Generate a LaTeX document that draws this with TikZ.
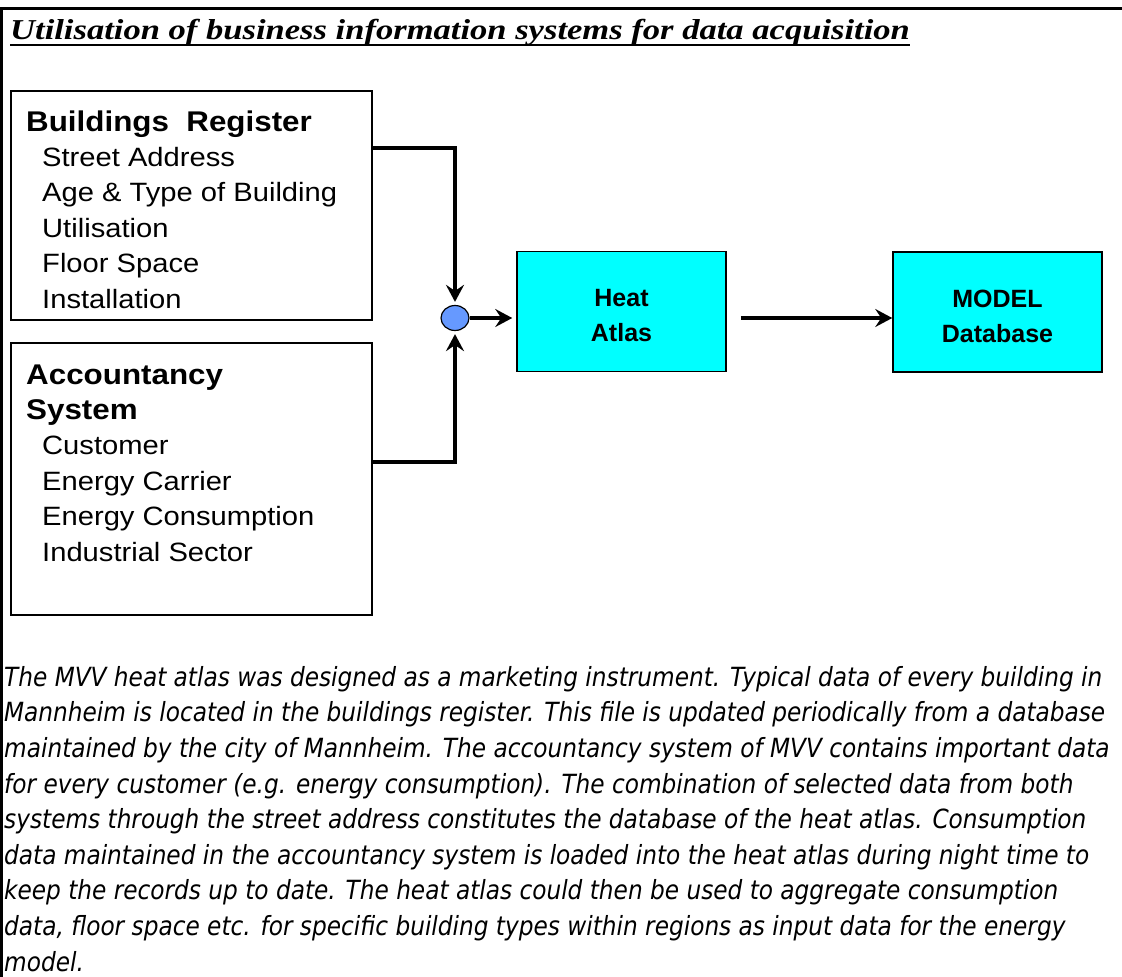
\documentclass[tikz,border=0pt]{standalone}
\usepackage{fontspec}
\setmainfont{Liberation Sans}
\newfontfamily\titlefont[FakeStretch=1.2]{Liberation Serif}
\newfontfamily\listfont[FakeStretch=1.1]{Liberation Sans}
\newfontfamily\notefont[FakeStretch=0.88]{DejaVu Sans}
\usetikzlibrary{arrows.meta,calc,shapes.geometric}
\definecolor{AtlasCyan}{HTML}{00FFFF}
\definecolor{JunctionBlue}{HTML}{6699FF}
\tikzset{
  every node/.style={text=black},
  frame/.style={draw=black, line width=3pt},
  srcbox/.style={draw=black, line width=1.3pt, fill=white, inner sep=0pt},
  dstbox/.style={draw=black, line width=1.5pt, fill=AtlasCyan, minimum width=209pt, minimum height=120pt, inner sep=0pt, font=\fontsize{25}{35}\selectfont\bfseries},
  junction/.style={ellipse, draw=black, line width=1.2pt, fill=JunctionBlue, minimum width=28pt, minimum height=25pt, inner sep=0pt},
  flow/.style={-{Stealth[length=17pt,width=18pt,inset=6pt]}, draw=black, line width=3.2pt},
  listing/.style={anchor=base west, align=left, inner sep=0pt, font=\listfont\fontsize{26.5}{35.4}\selectfont},
}
\newcommand{\entry}[1]{\hspace*{16pt}#1}
\newcommand{\boxlabel}[2]{\raisebox{-12pt}[0pt][0pt]{\begin{tabular}{@{}c@{}}#1\\#2\end{tabular}}}

\begin{document}
\begin{tikzpicture}[x=1pt, y=-1pt]
  \useasboundingbox (0,0) rectangle (1122,977);
  % Frame: top rule and left rule
  \draw[frame] (1.5,977) |- (1122,8);
  % Title
  \node[anchor=base west, inner sep=0pt, font=\titlefont\fontsize{28.8}{33}\selectfont\bfseries\itshape]
    (title) at (10,39) {Utilisation of business information systems for data acquisition};
  \draw[line width=2.5pt] ([yshift=-6pt]title.base west) -- ([yshift=-6pt]title.base east);
  % Source boxes (text node anchored at its last baseline)
  \node[srcbox, minimum width=361pt, minimum height=229pt] (bldg) at (191.5,205.5) {};
  \node[listing] (bldgtext) at (26,308) {%
    {\fontsize{28.5}{35}\selectfont\bfseries Buildings\ \ Register}\\
    \entry{Street Address}\\
    \entry{Age \& Type of Building}\\
    \entry{Utilisation}\\
    \entry{Floor Space}\\
    \entry{Installation}};
  \node[srcbox, minimum width=361pt, minimum height=272pt] (acct) at (191.5,479) {};
  \node[listing] (accttext) at (26,561) {%
    {\fontsize{28.5}{35}\selectfont\bfseries Accountancy}\\
    {\fontsize{28.5}{35}\selectfont\bfseries System}\\
    \entry{Customer}\\
    \entry{Energy Carrier}\\
    \entry{Energy Consumption}\\
    \entry{Industrial Sector}};
  % Junction and target boxes
  \node[junction] (junc) at (455,318) {};
  \node[dstbox] (atlas) at (621.5,311.5) {\boxlabel{Heat}{Atlas}};
  \node[dstbox] (model) at (997.5,312) {\boxlabel{MODEL}{Database}};
  % Connectors
  \draw[flow, shorten >=3pt] ($(bldg.north east)!0.25!(bldg.south east)$) -| (junc.north);
  \draw[flow, shorten >=3pt] ($(acct.north east)!0.4375!(acct.south east)$) -| (junc.south);
  \draw[flow, shorten >=4pt] (junc.east) -- (junc -| atlas.west);
  \draw[flow, shorten <=14pt] (atlas.east |- junc) -- (model.west |- junc);
  % Note below the diagram
  \node[anchor=base west, align=left, inner sep=0pt, font=\notefont\itshape\fontsize{26.4}{35.6}\selectfont]
    (note) at (4,971) {The MVV heat atlas was designed as a marketing instrument. Typical data of every building in\\
    Mannheim is located in the buildings register. This file is updated periodically from a database\\
    maintained by the city of Mannheim. The accountancy system of MVV contains important data\\
    for every customer (e.g. energy consumption). The combination of selected data from both\\
    systems through the street address constitutes the database of the heat atlas. Consumption\\
    data maintained in the accountancy system is loaded into the heat atlas during night time to\\
    keep the records up to date. The heat atlas could then be used to aggregate consumption\\
    data, floor space etc. for specific building types within regions as input data for the energy\\
    model.};
\end{tikzpicture}
\end{document}
